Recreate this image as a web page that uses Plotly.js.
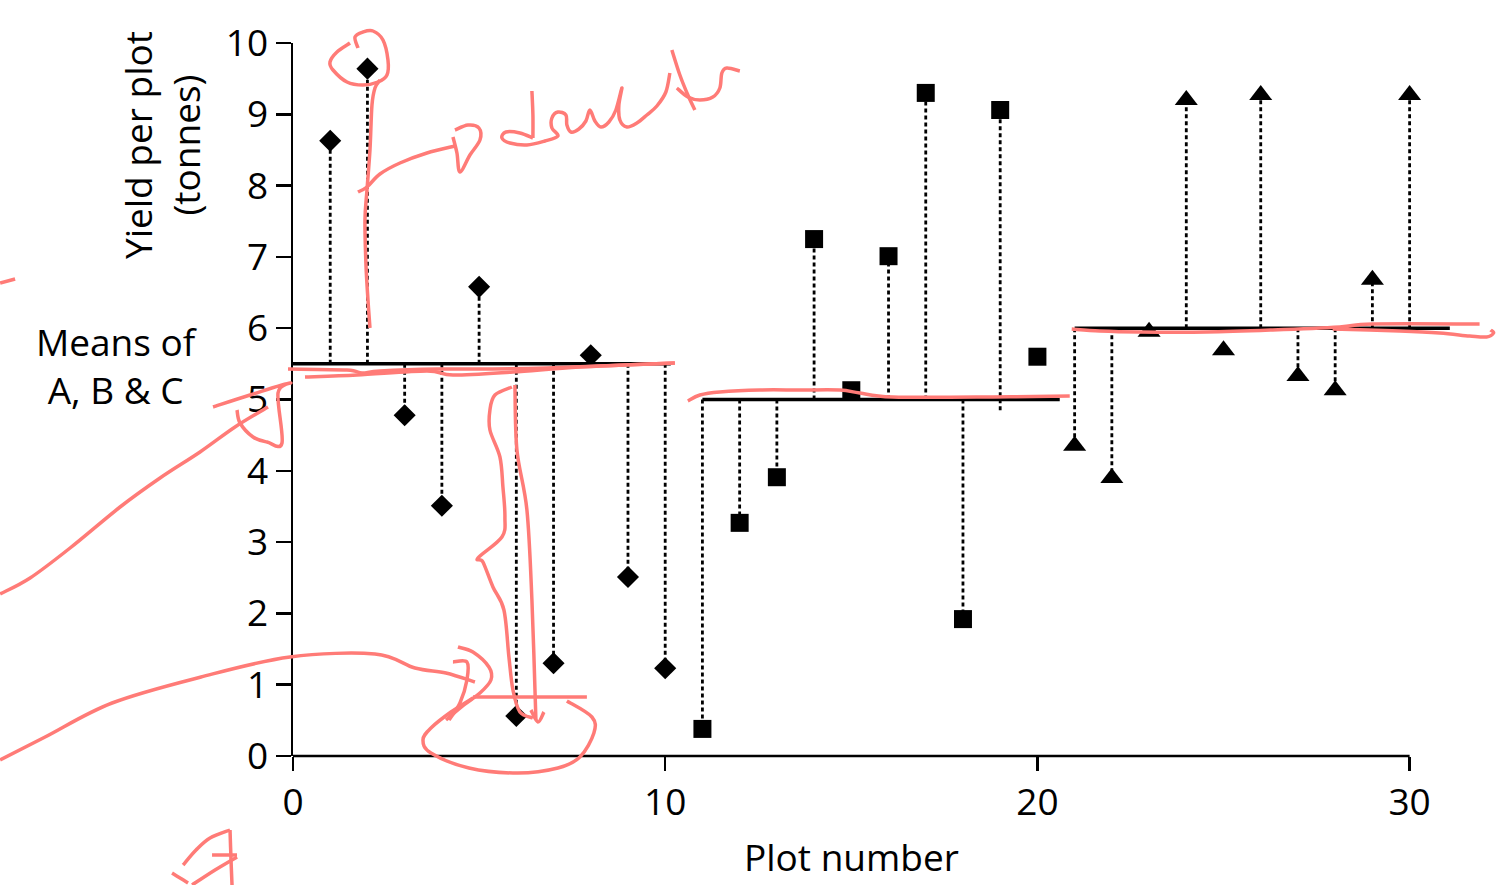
<!DOCTYPE html>
<html>
<head>
<meta charset="utf-8">
<script src="https://cdn.plot.ly/plotly-3.0.1.min.js"></script>
<style>html,body{margin:0;padding:0;background:#fff;}#chart{width:1503px;height:885px;}</style>
</head>
<body>
<div id="chart"></div>
<script>
// ---------------- DATA ----------------
const plotsA = [1, 2, 3, 4, 5, 6, 7, 8, 9, 10];
const yieldA = [8.63, 9.64, 4.78, 3.51, 6.58, 0.56, 1.30, 5.62, 2.51, 1.23];
const plotsB = [11, 12, 13, 14, 15, 16, 17, 18, 19, 20];
const yieldB = [0.38, 3.27, 3.91, 7.25, 5.13, 7.01, 9.30, 1.92, 9.06, 5.60];
const plotsC = [21, 22, 23, 24, 25, 26, 27, 28, 29, 30];
const yieldC = [4.35, 3.90, 5.95, 9.20, 5.69, 9.27, 5.33, 5.13, 6.68, 9.27];

const groupMeans = [5.5, 5.0, 6.0];
const meanStart = [0, 11, 21];
const meanEnd = [10.15, 20.6, 31.08];

// far end of each dotted drop line (null = no line drawn)
const dropEndA = [5.5, 5.5, 5.5, 5.5, 5.5, 5.5, 5.5, null, 5.5, 5.5];
const dropEndB = [5.0, 5.0, 5.0, 5.0, null, 5.0, 5.0, 5.0, 4.85, null];
const dropEndC = [6.0, 6.0, null, 6.0, null, 6.0, 6.0, 6.0, 6.0, 6.0];

const xTicks = [0, 10, 20, 30];
const xRange = [0, 31.3];
const yRange = [0, 10];

// ---------------- TRACES ----------------
function dropTrace(xs, ys, ends) {
  const x = [], y = [];
  xs.forEach((v, i) => {
    if (ends[i] === null) return;
    x.push(v, v, null);
    y.push(ends[i], ys[i], null);
  });
  return {x, y};
}
const dA = dropTrace(plotsA, yieldA, dropEndA);
const dB = dropTrace(plotsB, yieldB, dropEndB);
const dC = dropTrace(plotsC, yieldC, dropEndC);

const traces = [];
traces.push({
  type: 'scatter', mode: 'lines',
  x: dA.x.concat(dB.x, dC.x), y: dA.y.concat(dB.y, dC.y),
  line: {color: '#000', width: 2.8, dash: '4px,3px'},
  connectgaps: false, hoverinfo: 'skip', showlegend: false
});
const mx = [], my = [];
groupMeans.forEach((m, i) => { mx.push(meanStart[i], meanEnd[i], null); my.push(m, m, null); });
traces.push({
  type: 'scatter', mode: 'lines', x: mx, y: my,
  line: {color: '#000', width: 3.5}, connectgaps: false, showlegend: false
});
traces.push({type: 'scatter', mode: 'markers', x: plotsA, y: yieldA,
  marker: {symbol: 'diamond', size: 17, color: '#000'}, showlegend: false, cliponaxis: false});
traces.push({type: 'scatter', mode: 'markers', x: plotsB, y: yieldB,
  marker: {symbol: 'square', size: 18, color: '#000'}, showlegend: false, cliponaxis: false});
traces.push({type: 'scatter', mode: 'markers', x: plotsC, y: yieldC,
  marker: {symbol: 'triangle-up', size: 20, color: '#000'}, showlegend: false, cliponaxis: false});

// ---------------- LAYOUT ----------------
const W = 1503, H = 885;
const mL = 293, mT = 43, mB = 129;
const unitPx = (1410 - 293) / 30;
const plotW = (xRange[1] - xRange[0]) * unitPx;
const mR = W - mL - plotW;
const plotH = H - mT - mB;
const px2x = p => (p - mL) / plotW;
const py2y = p => (H - mB - p) / plotH;

// red hand-drawn pen strokes (pixel positions on the picture)
const penStrokes = [
  [[0,283],[15,279]],
  [[358,48],[355,37],[363,32],[373,31],[383,40],[388,60],[387,75],[378,82],[363,85],[347,82],[333,70],[330,62],[337,52],[350,43]],
  [[380,80],[375,88],[372,105],[370,150],[367,190],[365,220],[366,265],[368,300],[370,328]],
  [[358,192],[367,187],[380,174],[400,163],[427,153],[455,146]],
  [[453,137],[457,153],[460,172],[470,155],[480,140],[479,128],[468,125],[455,130]],
  [[532,91],[533,115],[533,138]],
  [[533,138],[520,133],[506,132],[502,138],[510,143],[527,145],[545,141],[558,136],[552,128],[552,118],[558,112],[566,115],[567,125],[571,132],[579,129],[586,121],[590,110],[595,121],[601,127],[609,122],[616,110],[622,88],[619,105],[620,120],[627,127],[637,123],[647,115],[657,106],[666,92],[670,73]],
  [[672,50],[680,75],[688,95],[695,110]],
  [[677,88],[688,97],[700,100],[713,97],[720,88],[722,73],[727,68],[740,71]],
  [[288,369],[347,370],[362,373],[380,371],[437,369],[480,369],[547,368],[675,363]],
  [[305,377],[357,375],[427,371],[453,375],[513,372],[580,367],[675,363]],
  [[688,401],[700,395],[720,392],[760,390],[800,390],[840,390],[860,393],[893,397],[993,397],[1070,396]],
  [[1072,329],[1100,331],[1140,332],[1207,332],[1273,330],[1340,327],[1373,324],[1480,324]],
  [[1333,329],[1400,331],[1440,333],[1470,336],[1487,337],[1494,333],[1491,330]],
  [[0,594],[30,578],[70,548],[120,507],[160,478],[200,452],[235,427],[268,407]],
  [[213,407],[250,395],[290,383],[278,393],[282,443],[267,442],[253,437],[240,423],[237,410]],
  [[0,760],[45,737],[112,703],[201,677],[290,657],[375,654],[415,668],[446,673],[475,682]],
  [[458,647],[473,652],[489,667],[491,680],[480,693],[464,705],[446,720]],
  [[453,662],[467,662],[467,680],[460,703],[449,720]],
  [[473,697],[587,697]],
  [[567,701],[592,717],[594,733],[580,757],[558,768],[518,773],[469,768],[431,753],[423,740],[431,728],[451,712],[473,698]],
  [[512,387],[495,395],[490,410],[490,430],[500,457],[503,487],[505,517],[502,537],[478,558],[483,562],[493,587],[504,610],[509,657],[513,690],[520,712],[533,718]],
  [[515,385],[517,450],[527,510],[532,600],[536,720]],
  [[531,710],[538,722],[544,712]],
  [[183,865],[196,850],[210,838],[230,830]],
  [[230,830],[231,860],[232,885]],
  [[212,855],[237,855]],
  [[237,857],[215,870],[192,885]],
  [[172,873],[180,878],[188,883]]
];
function smoothPath(pts) {
  const p = pts.map(q => [px2x(q[0]), py2y(q[1])]);
  let d = 'M' + p[0][0] + ',' + p[0][1];
  if (p.length === 2) return d + 'L' + p[1][0] + ',' + p[1][1];
  for (let i = 0; i < p.length - 1; i++) {
    const p0 = p[Math.max(i - 1, 0)], p1 = p[i], p2 = p[i + 1], p3 = p[Math.min(i + 2, p.length - 1)];
    const c1 = [p1[0] + (p2[0] - p0[0]) / 6, p1[1] + (p2[1] - p0[1]) / 6];
    const c2 = [p2[0] - (p3[0] - p1[0]) / 6, p2[1] - (p3[1] - p1[1]) / 6];
    d += 'C' + c1[0] + ',' + c1[1] + ' ' + c2[0] + ',' + c2[1] + ' ' + p2[0] + ',' + p2[1];
  }
  return d;
}
const shapes = [{
  type: 'line', xref: 'paper', yref: 'paper',
  x0: 0, x1: (xTicks[xTicks.length - 1] - xRange[0]) / (xRange[1] - xRange[0]), y0: 0, y1: 0,
  line: {color: '#000', width: 2.5}, layer: 'above'
}];
penStrokes.forEach(s => shapes.push({
  type: 'path', xref: 'paper', yref: 'paper', path: smoothPath(s),
  line: {color: '#FF7B77', width: 3.5}, layer: 'above'
}));

const FONT = '"Open Sans", "Noto Sans", sans-serif';
const FS = 37;
const layout = {
  width: W, height: H,
  margin: {l: mL, r: mR, t: mT, b: mB, pad: 0},
  paper_bgcolor: '#fff', plot_bgcolor: '#fff',
  font: {family: FONT, size: FS, color: '#000'},
  showlegend: false,
  xaxis: {
    range: xRange, tickvals: xTicks, ticktext: xTicks.map(String),
    ticks: 'outside', ticklen: 14, tickwidth: 2.5, tickcolor: '#000',
    showline: false, showgrid: false, zeroline: false,
    tickfont: {family: FONT, size: FS, color: '#000'}
  },
  yaxis: {
    range: yRange, tickmode: 'linear', tick0: 0, dtick: 1,
    ticks: 'outside', ticklen: 15, tickwidth: 2.5, tickcolor: '#000',
    showline: true, linewidth: 2.5, linecolor: '#000',
    showgrid: false, zeroline: false,
    tickfont: {family: FONT, size: FS, color: '#000'}
  },
  shapes: shapes,
  annotations: [
    {text: 'Plot number', xref: 'x', yref: 'paper', x: 15, y: py2y(857),
     showarrow: false, xanchor: 'center', yanchor: 'middle', font: {family: FONT, size: FS}},
    {text: 'Yield per plot<br>(tonnes)', xref: 'paper', yref: 'paper', x: px2x(161), y: py2y(145),
     textangle: -90, showarrow: false, xanchor: 'center', yanchor: 'middle', font: {family: FONT, size: FS}},
    {text: 'Means of<br>A, B &amp; C', xref: 'paper', yref: 'paper', x: px2x(117), y: py2y(365),
     showarrow: false, xanchor: 'center', yanchor: 'middle', font: {family: FONT, size: FS}}
  ]
};

Plotly.newPlot('chart', traces, layout, {displayModeBar: false, staticPlot: true});
</script>
</body>
</html>
